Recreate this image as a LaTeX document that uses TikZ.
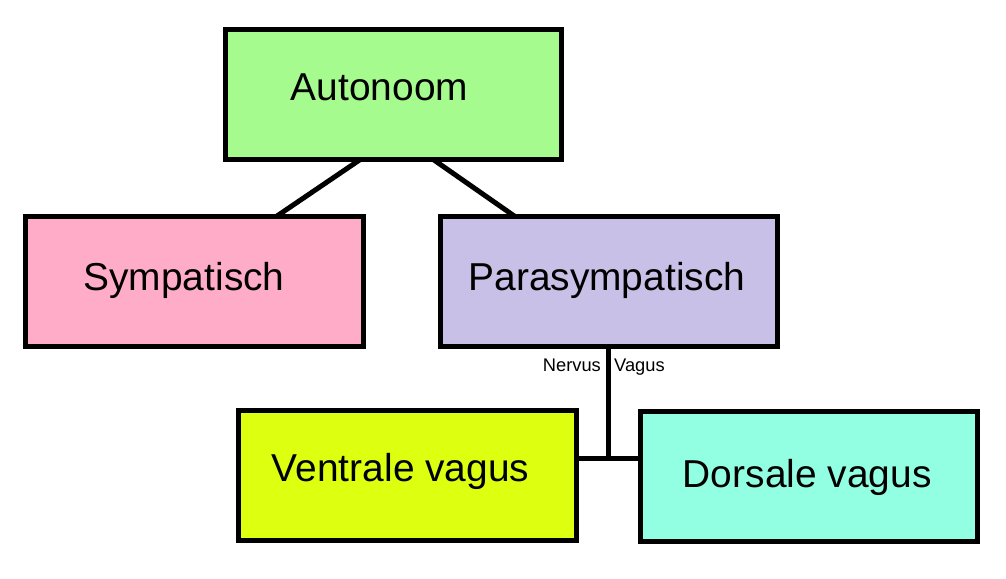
\documentclass[tikz,border=0pt]{standalone}
\usepackage{fontspec}
\setmainfont{Liberation Sans}
\definecolor{cAuto}{HTML}{A6FB8E}
\definecolor{cSym}{HTML}{FFACC8}
\definecolor{cPara}{HTML}{C8C0E6}
\definecolor{cVen}{HTML}{DDFF10}
\definecolor{cDor}{HTML}{92FFE2}
\tikzset{
  box/.style={draw=black, line width=5pt, rectangle, inner sep=0pt, minimum width=#1, minimum height=130pt},
  bigtext/.style={anchor=base west, inner sep=0pt, font=\fontsize{38.9}{40}\selectfont},
  smalltext/.style={anchor=base west, inner sep=0pt, font=\fontsize{18.3}{20}\selectfont},
  conn/.style={line width=5pt},
}
\begin{document}
\begin{tikzpicture}[x=1pt,y=-1pt]
\useasboundingbox[fill=white] (0,0) rectangle (1006,578);
\node[box=336.5pt, minimum height=129.5pt, fill=cAuto] (a) at (393.25,94.75) {};
\node[box=338pt, fill=cSym] (s) at (194,281) {};
\node[box=337.5pt, fill=cPara] (p) at (608.75,281.5) {};
\node[box=338pt, fill=cVen] (v) at (407.5,475) {};
\node[box=337.5pt, fill=cDor] (d) at (808.75,476) {};
\node[bigtext] (ta) at (290.7,100.7) {Autonoom};
\node[bigtext] (ts) at (83.3,290) {Sympatisch};
\node[bigtext] (tp) at (468.3,290) {Parasympatisch};
\node[bigtext] (tv) at (271.7,481.7) {Ventrale vagus};
\node[bigtext] (td) at (682.7,487.3) {Dorsale vagus};
\node[smalltext] (n1) at (542.7,371.7) {Nervus};
\node[smalltext] (n2) at (614,371.7) {Vagus};
\draw[conn] ([xshift=-33pt,yshift=2.5pt]a.south) -- ([xshift=83pt,yshift=-2.5pt]s.north);
\draw[conn] ([xshift=40pt,yshift=2.5pt]a.south) -- ([xshift=-93.75pt,yshift=-2.5pt]p.north);
\coordinate (j) at ([yshift=16.5pt]v.east);
\draw[conn] ([yshift=2.5pt]p.south) -- ([yshift=-2.5pt]p.south |- j);
\draw[conn] ([xshift=-2.5pt]j) -- ([xshift=2.5pt,yshift=17.5pt]d.west);
\end{tikzpicture}
\end{document}
